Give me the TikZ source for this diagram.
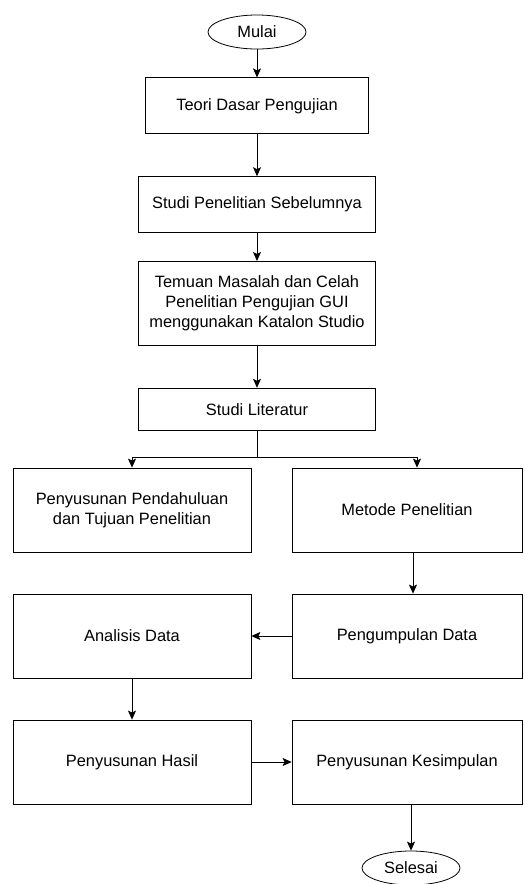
\documentclass[tikz,border=0pt]{standalone}
\usepackage{fontspec}
\setmainfont{Liberation Sans}
\usetikzlibrary{arrows.meta,positioning,shapes.geometric}
\tikzset{
  proc/.style={rectangle,draw,line width=0.8pt,align=center,inner sep=2pt,minimum height=84pt},
  term/.style={ellipse,draw,line width=0.8pt,minimum width=98pt,minimum height=34pt,inner sep=0pt},
  flow/.style={->,line width=0.8pt}
}

\begin{document}
\begin{tikzpicture}[x=1pt,y=-1pt,>={Stealth[length=9pt,width=8pt,inset=2pt]},
    font=\fontsize{16.4}{20}\selectfont]
  \useasboundingbox (0,0) rectangle (525,884);
  \clip (0,0) rectangle (525,884);
  % main column
  \node[term] (mulai) at (257,32) {Mulai};
  \node[proc,minimum width=223pt,minimum height=56pt,below=28pt of mulai] (teori) {Teori Dasar Pengujian};
  \node[proc,minimum width=237pt,minimum height=56pt,below=42pt of teori] (studi) {Studi Penelitian Sebelumnya};
  \node[proc,minimum width=237pt,below=28pt of studi] (temuan) {Temuan Masalah dan Celah\\Penelitian Pengujian GUI\\menggunakan Katalon Studio};
  \node[proc,minimum width=237pt,minimum height=42pt,below=42pt of temuan] (lit) {Studi Literatur};
  % two columns
  \node[proc,minimum width=238pt] (pend) at (132,510) {Penyusunan Pendahuluan\\dan Tujuan Penelitian};
  \node[proc,minimum width=230pt] (metode) at (407,510) {Metode Penelitian};
  \node[proc,minimum width=238pt] (analisis) at (132,636) {Analisis Data};
  \node[proc,minimum width=230pt] (kumpul) at (407,636) {Pengumpulan Data};
  \node[proc,minimum width=238pt] (hasil) at (132,762) {Penyusunan Hasil};
  \node[proc,minimum width=230pt] (simpul) at (407,762) {Penyusunan Kesimpulan};
  \node[term] (selesai) at (411,868) {Selesai};
  % connectors
  \draw[flow] (mulai) -- (teori);
  \draw[flow] (teori) -- (studi);
  \draw[flow] (studi) -- (temuan);
  \draw[flow] (temuan) -- (lit);
  \coordinate[below=27pt of lit.south] (cabang);
  \draw[line width=0.8pt] (lit) -- (cabang);
  \draw[flow] (cabang) -| (pend);
  \draw[flow] (cabang) -| ([xshift=10pt]metode.north);
  \draw[flow] ([xshift=6pt]metode.south) -- ([xshift=6pt]kumpul.north);
  \draw[flow] (kumpul) -- (analisis);
  \draw[flow] (analisis) -- (hasil);
  \draw[flow] (hasil) -- (simpul);
  \draw[flow] (simpul.south -| selesai.north) -- (selesai);
\end{tikzpicture}
\end{document}
